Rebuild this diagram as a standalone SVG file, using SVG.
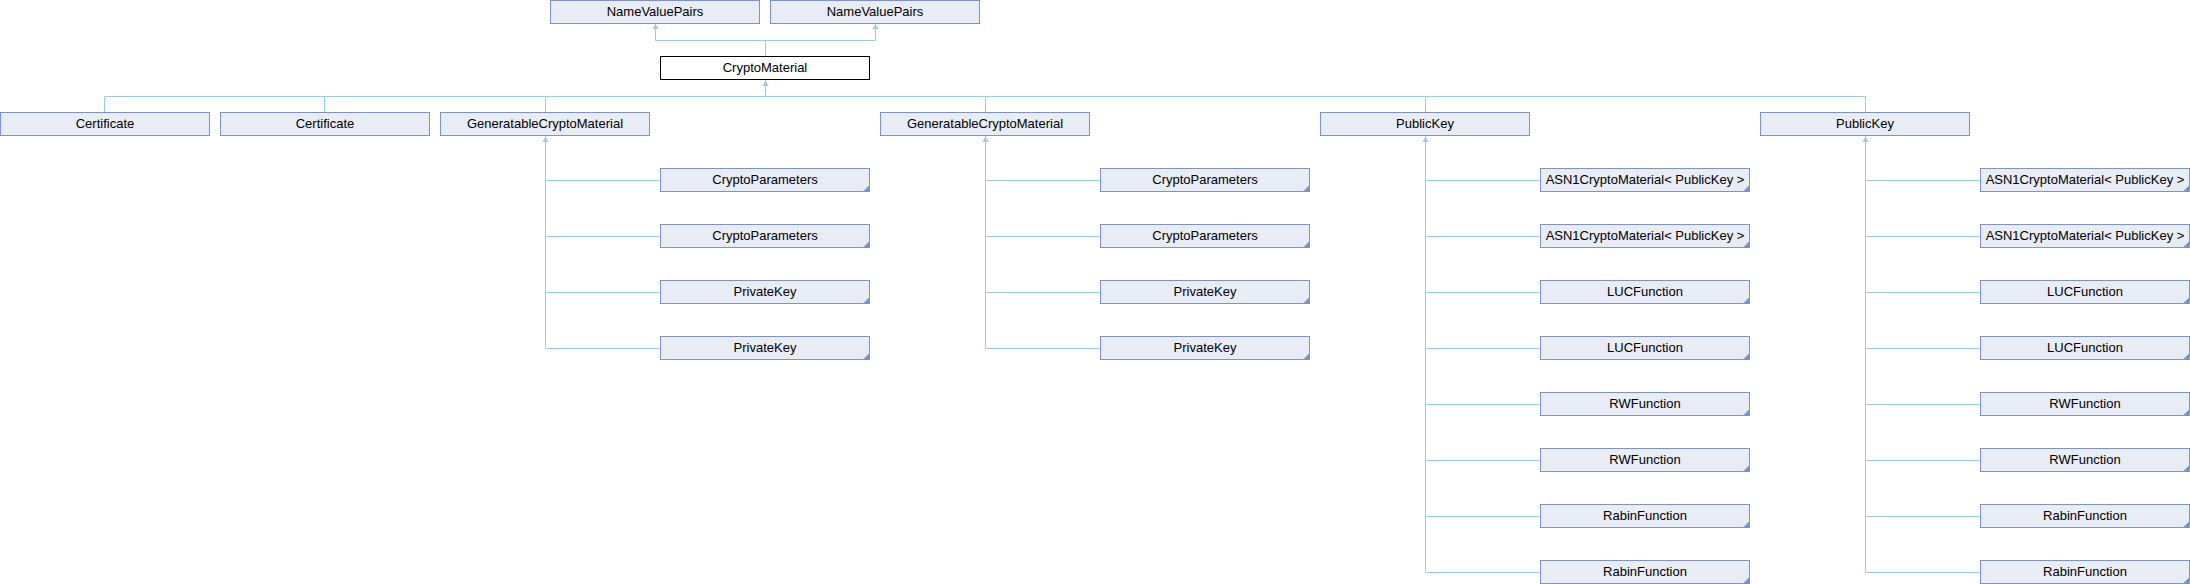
<svg xmlns="http://www.w3.org/2000/svg" width="2190" height="584" viewBox="0 0 2190 584">
<defs>
<style>
.b{fill:#E8ECF4;stroke:#7B93CB;stroke-width:1}
.r{fill:#FFFFFF;stroke:#000000;stroke-width:1}
.t{font-family:"Liberation Sans",Arial,sans-serif;font-size:13px;fill:#000000;text-anchor:middle}
.c{fill:#7B93CB}
.e{fill:none;stroke:#9ACBE9;stroke-width:1}
.a{fill:#9ACBE9}
</style>
</defs>
<rect width="2190" height="584" fill="#FFFFFF"/>
<g id="connectors">
<path class="e" d="M655.5,24 V40.5 H875.5 V24 M765.5,40.5 V56.5"/>
<polygon class="a" points="655.5,24 658.5,29 652.5,29"/>
<polygon class="a" points="875.5,24 878.5,29 872.5,29"/>
<path class="e" d="M765.5,80 V96.5 M104.5,96.5 H1865.5 M104.5,96.5 V112.5 M324.5,96.5 V112.5 M545.5,96.5 V112.5 M985.5,96.5 V112.5 M1425.5,96.5 V112.5 M1865.5,96.5 V112.5"/>
<polygon class="a" points="765.5,80.5 768.5,86 762.5,86"/>
<path class="e" d="M545.5,136 V348.5 M545.5,180.5 H660.5 M545.5,236.5 H660.5 M545.5,292.5 H660.5 M545.5,348.5 H660.5"/>
<polygon class="a" points="545.5,136.5 548.5,142 542.5,142"/>
<path class="e" d="M985.5,136 V348.5 M985.5,180.5 H1100.5 M985.5,236.5 H1100.5 M985.5,292.5 H1100.5 M985.5,348.5 H1100.5"/>
<polygon class="a" points="985.5,136.5 988.5,142 982.5,142"/>
<path class="e" d="M1425.5,136 V572.5 M1425.5,180.5 H1540.5 M1425.5,236.5 H1540.5 M1425.5,292.5 H1540.5 M1425.5,348.5 H1540.5 M1425.5,404.5 H1540.5 M1425.5,460.5 H1540.5 M1425.5,516.5 H1540.5 M1425.5,572.5 H1540.5"/>
<polygon class="a" points="1425.5,136.5 1428.5,142 1422.5,142"/>
<path class="e" d="M1865.5,136 V572.5 M1865.5,180.5 H1980.5 M1865.5,236.5 H1980.5 M1865.5,292.5 H1980.5 M1865.5,348.5 H1980.5 M1865.5,404.5 H1980.5 M1865.5,460.5 H1980.5 M1865.5,516.5 H1980.5 M1865.5,572.5 H1980.5"/>
<polygon class="a" points="1865.5,136.5 1868.5,142 1862.5,142"/>
</g>
<g id="nvp1"><rect class="b" x="550.5" y="0.5" width="209" height="23"/><text class="t" x="655" y="15.5">NameValuePairs</text></g>
<g id="nvp2"><rect class="b" x="770.5" y="0.5" width="209" height="23"/><text class="t" x="875" y="15.5">NameValuePairs</text></g>
<g id="cryptomaterial"><rect class="r" x="660.5" y="56.5" width="209" height="23"/><text class="t" x="765" y="71.5">CryptoMaterial</text></g>
<g id="certificate1"><rect class="b" x="0.5" y="112.5" width="209" height="23"/><text class="t" x="105" y="127.5">Certificate</text></g>
<g id="certificate2"><rect class="b" x="220.5" y="112.5" width="209" height="23"/><text class="t" x="325" y="127.5">Certificate</text></g>
<g id="gen1"><rect class="b" x="440.5" y="112.5" width="209" height="23"/><text class="t" x="545" y="127.5">GeneratableCryptoMaterial</text></g>
<g id="gen2"><rect class="b" x="880.5" y="112.5" width="209" height="23"/><text class="t" x="985" y="127.5">GeneratableCryptoMaterial</text></g>
<g id="pub1"><rect class="b" x="1320.5" y="112.5" width="209" height="23"/><text class="t" x="1425" y="127.5">PublicKey</text></g>
<g id="pub2"><rect class="b" x="1760.5" y="112.5" width="209" height="23"/><text class="t" x="1865" y="127.5">PublicKey</text></g>

<g id="g1c1"><rect class="b" x="660.5" y="168.5" width="209" height="23"/><polygon class="c" points="863,191.5 869.5,185 869.5,191.5"/><text class="t" x="765" y="183.5">CryptoParameters</text></g>
<g id="g1c2"><rect class="b" x="660.5" y="224.5" width="209" height="23"/><polygon class="c" points="863,247.5 869.5,241 869.5,247.5"/><text class="t" x="765" y="239.5">CryptoParameters</text></g>
<g id="g1c3"><rect class="b" x="660.5" y="280.5" width="209" height="23"/><polygon class="c" points="863,303.5 869.5,297 869.5,303.5"/><text class="t" x="765" y="295.5">PrivateKey</text></g>
<g id="g1c4"><rect class="b" x="660.5" y="336.5" width="209" height="23"/><polygon class="c" points="863,359.5 869.5,353 869.5,359.5"/><text class="t" x="765" y="351.5">PrivateKey</text></g>

<g id="g2c1"><rect class="b" x="1100.5" y="168.5" width="209" height="23"/><polygon class="c" points="1303,191.5 1309.5,185 1309.5,191.5"/><text class="t" x="1205" y="183.5">CryptoParameters</text></g>
<g id="g2c2"><rect class="b" x="1100.5" y="224.5" width="209" height="23"/><polygon class="c" points="1303,247.5 1309.5,241 1309.5,247.5"/><text class="t" x="1205" y="239.5">CryptoParameters</text></g>
<g id="g2c3"><rect class="b" x="1100.5" y="280.5" width="209" height="23"/><polygon class="c" points="1303,303.5 1309.5,297 1309.5,303.5"/><text class="t" x="1205" y="295.5">PrivateKey</text></g>
<g id="g2c4"><rect class="b" x="1100.5" y="336.5" width="209" height="23"/><polygon class="c" points="1303,359.5 1309.5,353 1309.5,359.5"/><text class="t" x="1205" y="351.5">PrivateKey</text></g>

<g id="p1c1"><rect class="b" x="1540.5" y="168.5" width="209" height="23"/><polygon class="c" points="1743,191.5 1749.5,185 1749.5,191.5"/><text class="t" x="1645" y="183.5">ASN1CryptoMaterial&lt; PublicKey &gt;</text></g>
<g id="p1c2"><rect class="b" x="1540.5" y="224.5" width="209" height="23"/><polygon class="c" points="1743,247.5 1749.5,241 1749.5,247.5"/><text class="t" x="1645" y="239.5">ASN1CryptoMaterial&lt; PublicKey &gt;</text></g>
<g id="p1c3"><rect class="b" x="1540.5" y="280.5" width="209" height="23"/><polygon class="c" points="1743,303.5 1749.5,297 1749.5,303.5"/><text class="t" x="1645" y="295.5">LUCFunction</text></g>
<g id="p1c4"><rect class="b" x="1540.5" y="336.5" width="209" height="23"/><polygon class="c" points="1743,359.5 1749.5,353 1749.5,359.5"/><text class="t" x="1645" y="351.5">LUCFunction</text></g>
<g id="p1c5"><rect class="b" x="1540.5" y="392.5" width="209" height="23"/><polygon class="c" points="1743,415.5 1749.5,409 1749.5,415.5"/><text class="t" x="1645" y="407.5">RWFunction</text></g>
<g id="p1c6"><rect class="b" x="1540.5" y="448.5" width="209" height="23"/><polygon class="c" points="1743,471.5 1749.5,465 1749.5,471.5"/><text class="t" x="1645" y="463.5">RWFunction</text></g>
<g id="p1c7"><rect class="b" x="1540.5" y="504.5" width="209" height="23"/><polygon class="c" points="1743,527.5 1749.5,521 1749.5,527.5"/><text class="t" x="1645" y="519.5">RabinFunction</text></g>
<g id="p1c8"><rect class="b" x="1540.5" y="560.5" width="209" height="23"/><polygon class="c" points="1743,583.5 1749.5,577 1749.5,583.5"/><text class="t" x="1645" y="575.5">RabinFunction</text></g>

<g id="p2c1"><rect class="b" x="1980.5" y="168.5" width="209" height="23"/><polygon class="c" points="2183,191.5 2189.5,185 2189.5,191.5"/><text class="t" x="2085" y="183.5">ASN1CryptoMaterial&lt; PublicKey &gt;</text></g>
<g id="p2c2"><rect class="b" x="1980.5" y="224.5" width="209" height="23"/><polygon class="c" points="2183,247.5 2189.5,241 2189.5,247.5"/><text class="t" x="2085" y="239.5">ASN1CryptoMaterial&lt; PublicKey &gt;</text></g>
<g id="p2c3"><rect class="b" x="1980.5" y="280.5" width="209" height="23"/><polygon class="c" points="2183,303.5 2189.5,297 2189.5,303.5"/><text class="t" x="2085" y="295.5">LUCFunction</text></g>
<g id="p2c4"><rect class="b" x="1980.5" y="336.5" width="209" height="23"/><polygon class="c" points="2183,359.5 2189.5,353 2189.5,359.5"/><text class="t" x="2085" y="351.5">LUCFunction</text></g>
<g id="p2c5"><rect class="b" x="1980.5" y="392.5" width="209" height="23"/><polygon class="c" points="2183,415.5 2189.5,409 2189.5,415.5"/><text class="t" x="2085" y="407.5">RWFunction</text></g>
<g id="p2c6"><rect class="b" x="1980.5" y="448.5" width="209" height="23"/><polygon class="c" points="2183,471.5 2189.5,465 2189.5,471.5"/><text class="t" x="2085" y="463.5">RWFunction</text></g>
<g id="p2c7"><rect class="b" x="1980.5" y="504.5" width="209" height="23"/><polygon class="c" points="2183,527.5 2189.5,521 2189.5,527.5"/><text class="t" x="2085" y="519.5">RabinFunction</text></g>
<g id="p2c8"><rect class="b" x="1980.5" y="560.5" width="209" height="23"/><polygon class="c" points="2183,583.5 2189.5,577 2189.5,583.5"/><text class="t" x="2085" y="575.5">RabinFunction</text></g>
</svg>
